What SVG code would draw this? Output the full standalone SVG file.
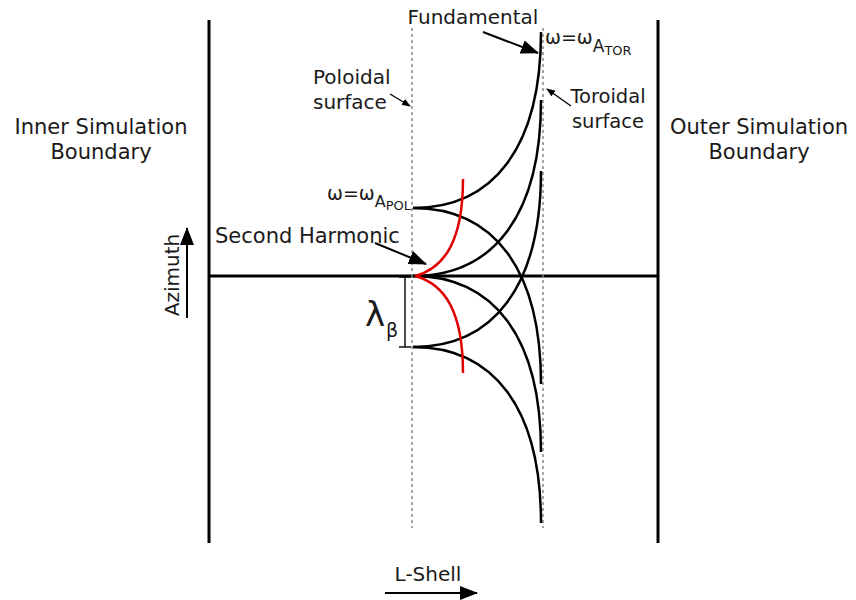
<svg xmlns="http://www.w3.org/2000/svg" width="856" height="600" viewBox="0 0 856 600">
<style>
text{font-family:"DejaVu Sans","Verdana",sans-serif;fill:#1a1a1a}
.t{font-size:20px}
.w{font-size:21px}
.b{stroke:#000;stroke-width:3;fill:none}
.c{stroke:#000;stroke-width:2.5;fill:none}
.r{stroke:#e00000;stroke-width:2.5;fill:none}
.d{stroke:#888;stroke-width:1.5;stroke-dasharray:3 3;fill:none}
.a{stroke:#000;stroke-width:2;fill:none}
.s{stroke:#000;stroke-width:1.4;fill:none}
</style>
<defs>
<marker id="big" viewBox="0 0 18 14" refX="17" refY="7" markerWidth="18" markerHeight="14" markerUnits="userSpaceOnUse" orient="auto"><path d="M0,0L18,7L0,14z" fill="#000"/></marker>
<marker id="sm" viewBox="0 0 10 8" refX="9" refY="4" markerWidth="9" markerHeight="7" markerUnits="userSpaceOnUse" orient="auto"><path d="M0,0L10,4L0,8z" fill="#000"/></marker>
</defs>
<g id="boundaries">
<line class="b" x1="209" y1="20" x2="209" y2="543"/>
<line class="b" x1="658" y1="20" x2="658" y2="543"/>
<line class="b" x1="209" y1="276" x2="658" y2="276"/>
</g>
<g id="surfaces">
<line class="d" x1="412" y1="28" x2="412" y2="528"/>
<line class="d" x1="543" y1="28" x2="543" y2="528"/>
</g>
<g id="curves">
<path class="c" d="M413,208 C493,208 541,148 541,32"/>
<path class="c" d="M413,208 C493,208 541,268 541,384"/>
<path class="c" d="M413,276 C493,276 541,216 541,100"/>
<path class="c" d="M413,276 C493,276 541,336 541,452"/>
<path class="c" d="M413,347 C493,347 541,287 541,171"/>
<path class="c" d="M413,347 C493,347 541,407 541,523"/>
<path class="r" d="M415,276 C445,268 463,240 463,179"/>
<path class="r" d="M415,276 C445,284 463,312 463,373"/>
</g>
<g id="lambda">
<line class="s" x1="405" y1="277" x2="405" y2="347"/>
<line class="s" x1="399" y1="277" x2="411" y2="277"/>
<line class="s" x1="399" y1="347" x2="411" y2="347"/>
<text x="365" y="326" style="font-size:34px">λ</text>
<text x="386" y="337" style="font-size:19px">β</text>
</g>
<g id="connectors">
<line class="a" x1="483" y1="32" x2="538" y2="53" marker-end="url(#big)"/>
<line class="a" x1="375" y1="243" x2="426" y2="264" marker-end="url(#big)"/>
<line class="s" x1="390" y1="94" x2="410" y2="106" marker-end="url(#sm)"/>
<line class="s" x1="571" y1="106" x2="547" y2="89" marker-end="url(#sm)"/>
<line class="a" x1="187" y1="318" x2="187" y2="228" marker-end="url(#big)"/>
<line class="a" x1="385" y1="593" x2="477" y2="593" marker-end="url(#big)"/>
</g>
<g id="labels">
<text class="t" x="473" y="24" text-anchor="middle">Fundamental</text>
<text x="545" y="44" style="font-size:19px">ω=ω<tspan dy="8" style="font-size:17px">A</tspan><tspan dy="3" style="font-size:13px">TOR</tspan></text>
<text x="327" y="200" style="font-size:19px">ω=ω<tspan dy="7" style="font-size:16px">A</tspan><tspan dy="3" style="font-size:13px">POL</tspan></text>
<text class="t" x="313" y="84">Poloidal</text>
<text class="t" x="313" y="109">surface</text>
<text x="608" y="103" text-anchor="middle" style="font-size:19.5px">Toroidal</text>
<text x="608" y="128" text-anchor="middle" style="font-size:19.5px">surface</text>
<text class="w" x="101" y="134" text-anchor="middle">Inner Simulation</text>
<text class="w" x="101" y="159" text-anchor="middle">Boundary</text>
<text class="w" x="759" y="134" text-anchor="middle">Outer Simulation</text>
<text class="w" x="759" y="159" text-anchor="middle">Boundary</text>
<text class="w" x="215" y="243">Second Harmonic</text>
<text class="t" x="0" y="0" text-anchor="middle" transform="translate(179,275) rotate(-90)">Azimuth</text>
<text class="t" x="428" y="581" text-anchor="middle">L-Shell</text>
</g>
</svg>
